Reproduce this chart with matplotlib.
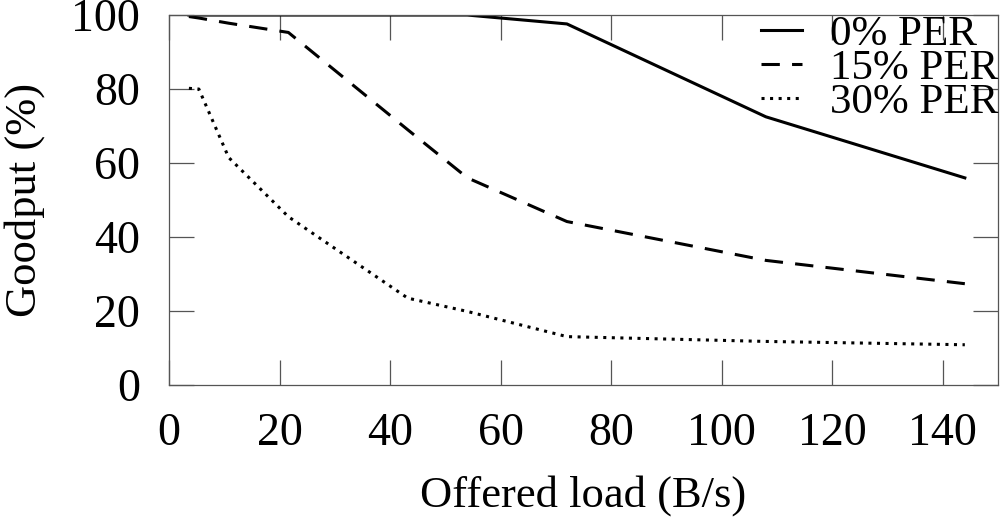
import matplotlib
matplotlib.use("Agg")
import matplotlib.pyplot as plt

offered_load = [3.6, 5.4, 10.8, 21.6, 43.2, 54, 72, 108, 144]
goodput_0 = [100, 100, 100, 100, 100, 100, 97.6, 72.5, 56]
goodput_15 = [99.6, 99.2, 97.8, 95.3, 69, 56, 44.2, 33.7, 27.4]
goodput_30 = [80.2, 80, 61.5, 45.5, 23.5, 19.9, 13.1, 11.8, 10.9]
labels = ["0% PER", "15% PER", "30% PER"]
xticks = [0, 20, 40, 60, 80, 100, 120, 140]
yticks = [0, 20, 40, 60, 80, 100]

plt.rcParams['font.family'] = ['Liberation Serif', 'DejaVu Serif']

fig = plt.figure(figsize=(10, 5.19), dpi=100)
ax = fig.add_axes([0.169, 0.258, 0.829, 0.713])

lw = 2.2
ax.plot(offered_load, goodput_0, color='black', lw=lw, linestyle='-', label=labels[0])
ax.plot(offered_load, goodput_15, color='black', lw=lw, linestyle=(0, (6, 4)), label=labels[1])
ax.plot(offered_load, goodput_30, color='black', lw=lw, linestyle=(0, (1.0, 1.8)), label=labels[2])

ax.set_xlim(0, 150)
ax.set_ylim(0, 100)
ax.set_xticks(xticks)
ax.set_yticks(yticks)
ax.tick_params(direction='in', length=18, width=0.9, color='#555555',
               top=True, right=True, labelsize=33)
ax.tick_params(axis='x', pad=20)
ax.tick_params(axis='y', pad=21)
for s in ax.spines.values():
    s.set_color('#555555')
    s.set_linewidth(0.9)

ax.set_xlabel("Offered load (B/s)", fontsize=32, labelpad=14)
ax.set_ylabel("Goodput (%)", fontsize=32, labelpad=19)

leg = ax.legend(loc='upper right', bbox_to_anchor=(1.0, 1.0), frameon=False,
                fontsize=31, borderaxespad=0, borderpad=0, labelspacing=-0.12,
                handlelength=0.95, handletextpad=0.65)

fig.savefig("out.png", dpi=100)
